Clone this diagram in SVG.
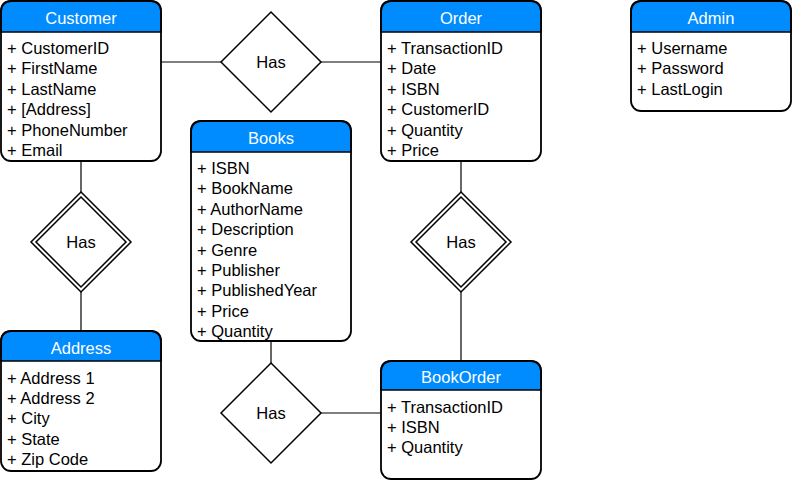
<svg xmlns="http://www.w3.org/2000/svg" width="792" height="481" viewBox="0 0 792 481">
<style>
text{font-family:"Liberation Sans",Arial,Helvetica,sans-serif;font-size:16.5px}
.t{fill:#fff;text-anchor:middle}
.a{fill:#000}
.bg{fill:#fff;stroke:none}
.hd{fill:#008CFF;stroke:#000;stroke-width:1.5}
.fr{fill:none;stroke:#000;stroke-width:1.8}
.dm{fill:#fff;stroke:#000;stroke-width:1.5}
.c{stroke:#000;stroke-width:1.2;fill:none}
.h{text-anchor:middle;fill:#000}
</style>
<rect width="792" height="481" fill="#fff"/>
<g id="connectors">
<line class="c" x1="161" y1="62" x2="221" y2="62"/>
<line class="c" x1="321" y1="62" x2="381" y2="62"/>
<line class="c" x1="81" y1="161" x2="81" y2="192"/>
<line class="c" x1="81" y1="292" x2="81" y2="331"/>
<line class="c" x1="461" y1="161" x2="461" y2="192"/>
<line class="c" x1="461" y1="292" x2="461" y2="361"/>
<line class="c" x1="271" y1="341" x2="271" y2="363"/>
<line class="c" x1="321" y1="413" x2="381" y2="413"/>
</g>
<g id="has1">
<polygon class="dm" points="271,12 321,62 271,112 221,62"/>
<text class="h" x="271" y="67.5">Has</text>
</g>
<g id="has2">
<polygon class="dm" points="81,192 131,242 81,292 31,242"/>
<polygon class="dm" points="81,197 126,242 81,287 36,242"/>
<text class="h" x="81" y="247.5">Has</text>
</g>
<g id="has3">
<polygon class="dm" points="461,192 511,242 461,292 411,242"/>
<polygon class="dm" points="461,197 506,242 461,287 416,242"/>
<text class="h" x="461" y="247.5">Has</text>
</g>
<g id="has4">
<polygon class="dm" points="271,363 321,413 271,463 221,413"/>
<text class="h" x="271" y="418.5">Has</text>
</g>
<g id="customer">
<rect class="bg" x="1" y="1" width="160" height="160" rx="10"/>
<path class="hd" d="M1,32 V11 Q1,1 11,1 H151 Q161,1 161,11 V32 Z"/>
<rect class="fr" x="1" y="1" width="160" height="160" rx="10"/>
<text class="t" x="81" y="23.5">Customer</text>
<text class="a" x="7" y="54">+ CustomerID</text>
<text class="a" x="7" y="74.4">+ FirstName</text>
<text class="a" x="7" y="94.8">+ LastName</text>
<text class="a" x="7" y="115.2">+ [Address]</text>
<text class="a" x="7" y="135.6">+ PhoneNumber</text>
<text class="a" x="7" y="156">+ Email</text>
</g>
<g id="order">
<rect class="bg" x="381" y="1" width="160" height="160" rx="10"/>
<path class="hd" d="M381,32 V11 Q381,1 391,1 H531 Q541,1 541,11 V32 Z"/>
<rect class="fr" x="381" y="1" width="160" height="160" rx="10"/>
<text class="t" x="461" y="23.5">Order</text>
<text class="a" x="387" y="54">+ TransactionID</text>
<text class="a" x="387" y="74.4">+ Date</text>
<text class="a" x="387" y="94.8">+ ISBN</text>
<text class="a" x="387" y="115.2">+ CustomerID</text>
<text class="a" x="387" y="135.6">+ Quantity</text>
<text class="a" x="387" y="156">+ Price</text>
</g>
<g id="admin">
<rect class="bg" x="631" y="1" width="160" height="110" rx="10"/>
<path class="hd" d="M631,32 V11 Q631,1 641,1 H781 Q791,1 791,11 V32 Z"/>
<rect class="fr" x="631" y="1" width="160" height="110" rx="10"/>
<text class="t" x="711" y="23.5">Admin</text>
<text class="a" x="637" y="54">+ Username</text>
<text class="a" x="637" y="74.4">+ Password</text>
<text class="a" x="637" y="94.8">+ LastLogin</text>
</g>
<g id="books">
<rect class="bg" x="191" y="121" width="160" height="220" rx="10"/>
<path class="hd" d="M191,152 V131 Q191,121 201,121 H341 Q351,121 351,131 V152 Z"/>
<rect class="fr" x="191" y="121" width="160" height="220" rx="10"/>
<text class="t" x="271" y="143.5">Books</text>
<text class="a" x="197" y="174">+ ISBN</text>
<text class="a" x="197" y="194.4">+ BookName</text>
<text class="a" x="197" y="214.8">+ AuthorName</text>
<text class="a" x="197" y="235.2">+ Description</text>
<text class="a" x="197" y="255.6">+ Genre</text>
<text class="a" x="197" y="276">+ Publisher</text>
<text class="a" x="197" y="296.4">+ PublishedYear</text>
<text class="a" x="197" y="316.8">+ Price</text>
<text class="a" x="197" y="337.2">+ Quantity</text>
</g>
<g id="address">
<rect class="bg" x="1" y="331" width="160" height="140" rx="10"/>
<path class="hd" d="M1,361 V341 Q1,331 11,331 H151 Q161,331 161,341 V361 Z"/>
<rect class="fr" x="1" y="331" width="160" height="140" rx="10"/>
<text class="t" x="81" y="353.5">Address</text>
<text class="a" x="7" y="383.5">+ Address 1</text>
<text class="a" x="7" y="403.9">+ Address 2</text>
<text class="a" x="7" y="424.3">+ City</text>
<text class="a" x="7" y="444.7">+ State</text>
<text class="a" x="7" y="465.1">+ Zip Code</text>
</g>
<g id="bookorder">
<rect class="bg" x="381" y="361" width="160" height="118" rx="10"/>
<path class="hd" d="M381,390 V371 Q381,361 391,361 H531 Q541,361 541,371 V390 Z"/>
<rect class="fr" x="381" y="361" width="160" height="118" rx="10"/>
<text class="t" x="461" y="383">BookOrder</text>
<text class="a" x="387" y="412.5">+ TransactionID</text>
<text class="a" x="387" y="432.9">+ ISBN</text>
<text class="a" x="387" y="453.3">+ Quantity</text>
</g>
</svg>
